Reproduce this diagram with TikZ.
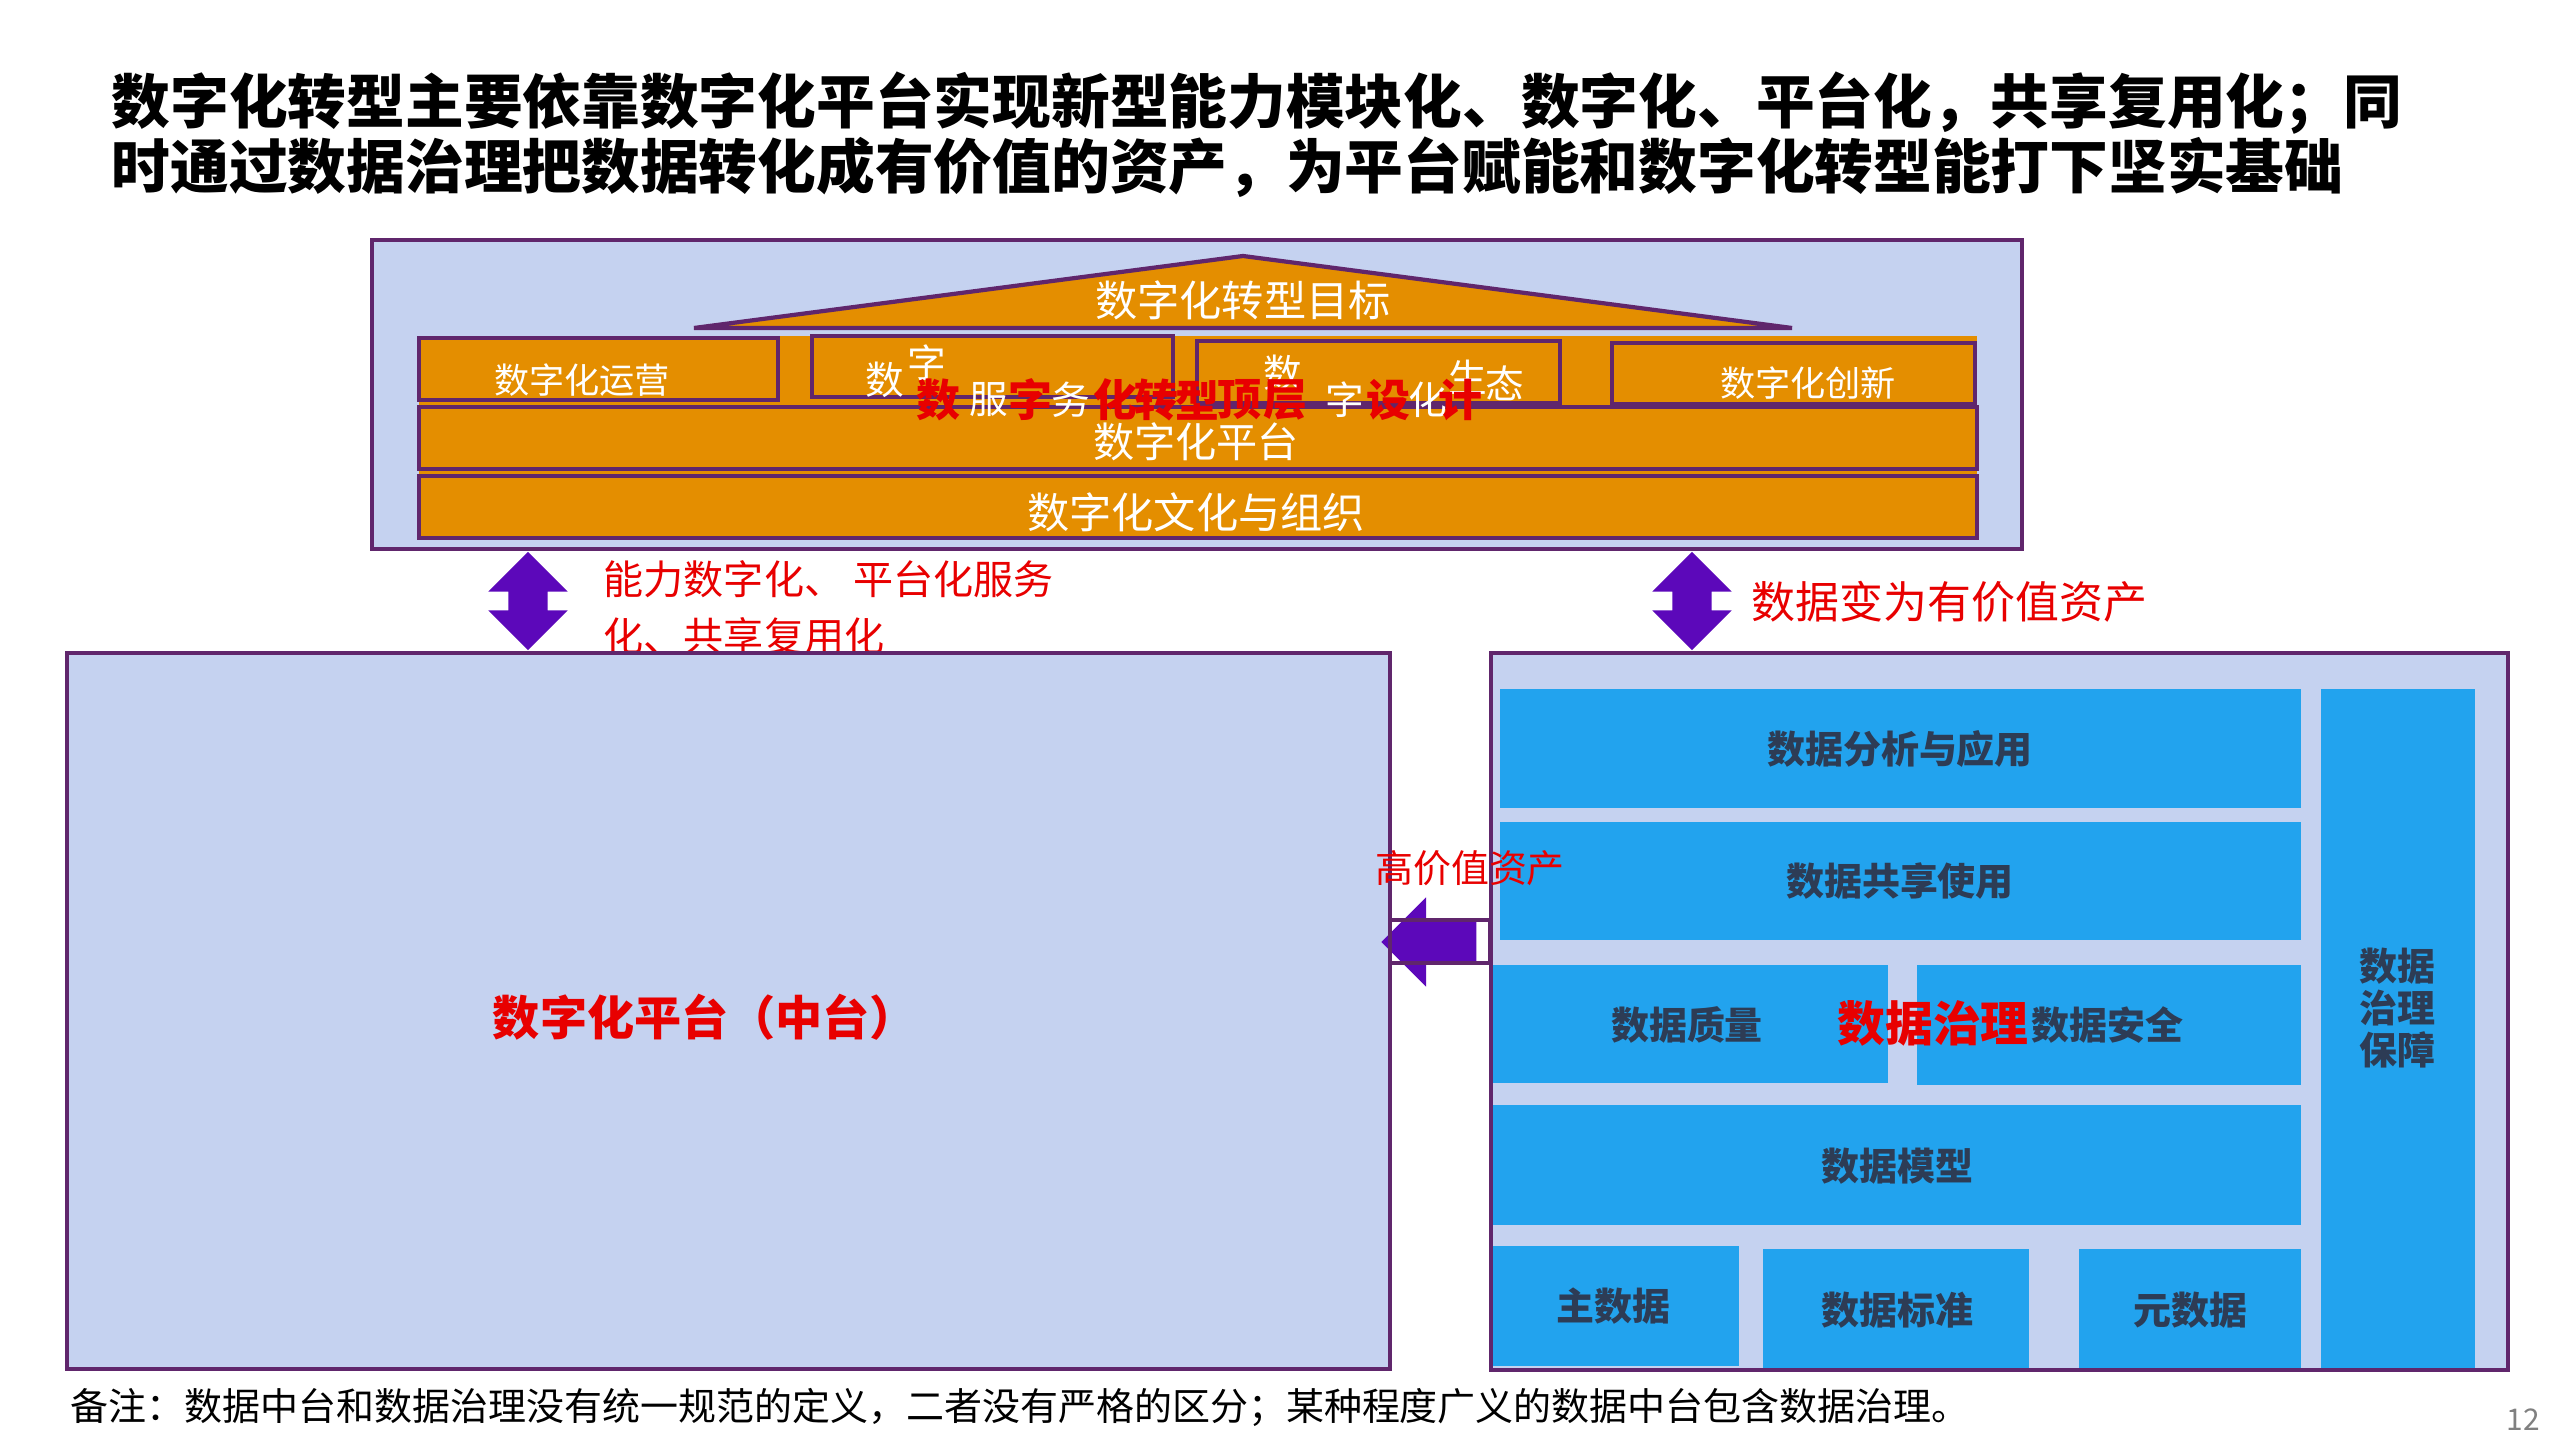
\documentclass[tikz,border=0pt]{standalone}
\usepackage{fontspec}
\setmainfont{Noto Sans CJK SC}
\usetikzlibrary{shapes.arrows}

\definecolor{paleblue}{RGB}{197,210,240}
\definecolor{framepurple}{RGB}{96,38,108}
\definecolor{rooforange}{RGB}{228,142,0}
\definecolor{arrowviolet}{RGB}{92,8,186}
\definecolor{tileblue}{RGB}{34,163,238}
\definecolor{tileink}{RGB}{45,60,85}
\definecolor{labelred}{RGB}{232,0,0}

\tikzset{
  panel/.style={draw=framepurple, line width=1pt, fill=paleblue},
  layer/.style={draw=framepurple, line width=1.2pt, fill=rooforange},
  tile/.style={fill=tileblue},
  layertext/.style={text=white, inner sep=0pt, font=\fontsize{10}{12}\selectfont},
  tiletext/.style={text=tileink, inner sep=0pt, font=\bfseries\fontsize{10.8}{12}\selectfont},
  redlabel/.style={text=labelred, inner sep=0pt},
  updown/.style={double arrow, fill=arrowviolet, inner xsep=0pt, inner ysep=0.19cm, minimum height=0.98cm,
    minimum width=0.78cm, double arrow head extend=0.2cm, rotate=90}
}

\begin{document}
\begin{tikzpicture}[x=0.01cm, y=-0.01cm]
  \fill[white] (0,0) rectangle (2560,1440);
  \useasboundingbox (0,0) rectangle (2560,1440);

  % headline
  \node[anchor=west, inner sep=0pt, align=left, font=\bfseries\fontsize{16.7}{18.5}\selectfont] (headline) at (111,135)
    {数字化转型主要依靠数字化平台实现新型能力模块化、数字化、平台化，共享复用化；同\\时通过数据治理把数据转化成有价值的资产，为平台赋能和数字化转型能打下坚实基础};

  % top house
  \draw[panel] (372,240) rectangle (2022,549);
  \fill[rooforange] (419,336) rectangle (1977,538);
  \draw[framepurple, line width=1.2pt, fill=rooforange] (694,328) -- (1243,256) -- (1792,328) -- cycle;
  \draw[layer] (419,338) rectangle (778,400);
  \draw[layer] (812,336) rectangle (1173,397);
  \draw[layer] (1197,341) rectangle (1560,403);
  \draw[layer] (1612,343) rectangle (1975,404);
  \draw[layer] (419,407) rectangle (1977,469);
  \draw[layer] (419,476) rectangle (1977,538);

  \node[layertext, font=\fontsize{12}{14}\selectfont] (goal) at (1243,300) {数字化转型目标};
  \node[layertext] (ops) at (582,380) {数字化运营};
  \node[layertext] (innov) at (1808,383) {数字化创新};
  \node[layertext, font=\fontsize{11.7}{14}\selectfont] (platform) at (1196,442) {数字化平台};
  \node[layertext, font=\fontsize{12}{14}\selectfont] (culture) at (1196,512) {数字化文化与组织};

  % overlapping labels in the middle row
  \foreach \ch/\px/\py [count=\i] in {数/885/380, 字/927/363, 服/989/400, 务/1071/400, 数/1283/373,
      字/1345/400, 化/1428/400, 生/1468/377, 态/1505/383}
    \node[layertext, font=\fontsize{11}{12}\selectfont] (white\i) at (\px,\py) {\ch};
  \foreach \ch/\px [count=\i] in {数/938, 字/1030, 化/1115, 转/1156, 型/1197, 顶/1239, 层/1285, 设/1388, 计/1460}
    \node[redlabel, font=\bfseries\fontsize{12.5}{14}\selectfont] (design\i) at (\px,400) {\ch};

  % links between top and bottom
  \node[updown] (liftL) at (528,601) {};
  \node[updown] (liftR) at (1692,601) {};
  \node[redlabel, anchor=west, align=left, font=\fontsize{11.4}{16.2}\selectfont] (capLabel) at (603,608)
    {能力数字化、 平台化服务\\化、共享复用化};
  \node[redlabel, anchor=west, font=\fontsize{12.5}{14}\selectfont] (assetLabel) at (1751,602) {数据变为有价值资产};

  % digital platform
  \draw[panel] (67,653) rectangle (1390,1369);
  \node[redlabel, font=\bfseries\fontsize{13.4}{15}\selectfont] (midplat) at (705,1017) {数字化平台（中台）};

  % data governance
  \draw[panel] (1491,653) rectangle (2508,1370);
  \fill[tile] (1500,689) rectangle (2301,808);
  \fill[tile] (1500,822) rectangle (2301,940);
  \fill[tile] (1493,965) rectangle (1888,1083);
  \fill[tile] (1917,965) rectangle (2301,1085);
  \fill[tile] (1493,1105) rectangle (2301,1225);
  \fill[tile] (1493,1246) rectangle (1739,1366);
  \fill[tile] (1763,1249) rectangle (2029,1368);
  \fill[tile] (2079,1249) rectangle (2301,1368);
  \fill[tile] (2321,689) rectangle (2475,1368);

  \node[tiletext] (analysis) at (1900,749) {数据分析与应用};
  \node[tiletext] (sharing) at (1900,881) {数据共享使用};
  \node[tiletext] (quality) at (1687,1025) {数据质量};
  \node[tiletext] (security) at (2107,1025) {数据安全};
  \node[tiletext] (model) at (1897,1166) {数据模型};
  \node[tiletext] (master) at (1613,1306) {主数据};
  \node[tiletext] (standard) at (1897,1310) {数据标准};
  \node[tiletext] (meta) at (2190,1310) {元数据};
  \node[tiletext, align=center, font=\bfseries\fontsize{10.8}{12}\selectfont] (guard) at (2397,1008) {数据\\治理\\保障};
  \node[redlabel, font=\bfseries\fontsize{13.6}{15}\selectfont] (govern) at (1933,1023) {数据治理};

  % high value assets back to the platform
  \node[single arrow, fill=arrowviolet, inner xsep=0pt, inner ysep=0.215cm, minimum height=0.95cm, minimum width=0.88cm,
    single arrow head extend=0.225cm, rotate=180] (feed) at (1440,942) {};
  \draw[framepurple, line width=1pt] (1390,920) rectangle (1490,963);
  \node[redlabel, font=\fontsize{10.8}{12}\selectfont] (valueLabel) at (1470,868) {高价值资产};

  % footnote
  \node[anchor=west, inner sep=0pt, font=\fontsize{10.8}{12}\selectfont] (remark) at (70,1407)
    {备注：数据中台和数据治理没有统一规范的定义，二者没有严格的区分；某种程度广义的数据中台包含数据治理。};
  \node[text=gray, inner sep=0pt, font=\fontsize{8.5}{10}\selectfont] (pageno) at (2523,1420) {12};
\end{tikzpicture}
\end{document}
